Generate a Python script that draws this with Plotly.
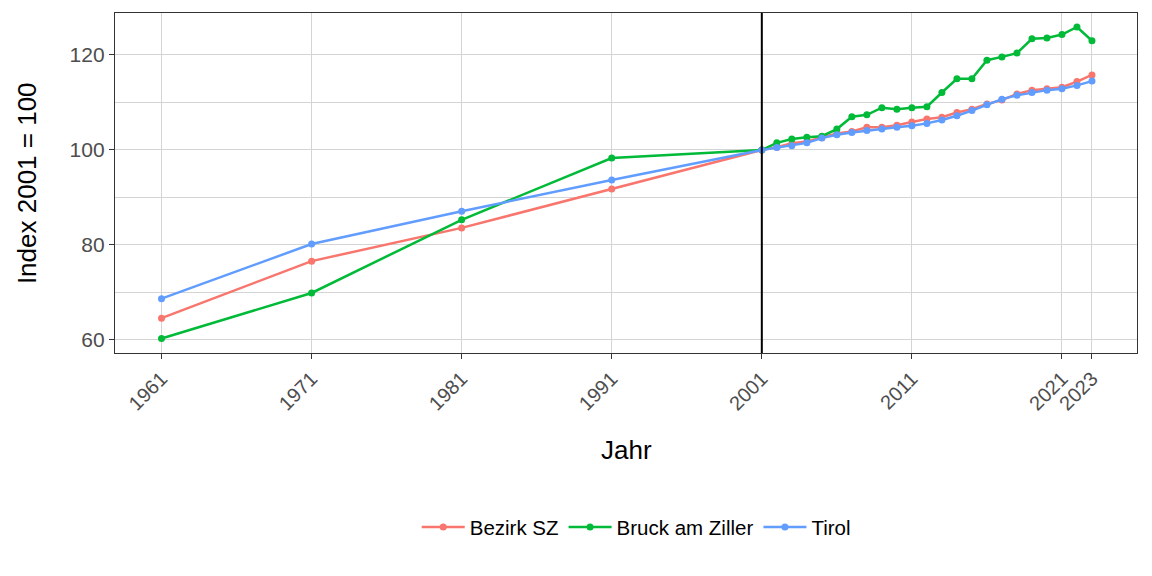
import plotly.graph_objects as go

years = [1961, 1971, 1981, 1991, 2001] + list(range(2002, 2024))

bezirk_sz = [64.6, 76.6, 83.6, 91.8, 100.0,
             100.6, 101.4, 101.8, 102.6, 103.5, 103.9, 104.8, 104.8, 105.2, 105.9,
             106.5, 106.9, 107.9, 108.6, 109.7, 110.5, 111.8, 112.6, 112.9, 113.2,
             114.4, 115.8]
bruck = [60.3, 69.9, 85.3, 98.3, 100.0,
         101.5, 102.3, 102.7, 102.9, 104.4, 107.0, 107.4, 108.9, 108.6, 108.9,
         109.1, 112.1, 115.0, 115.0, 118.9, 119.6, 120.4, 123.4, 123.6, 124.3,
         125.9, 123.0]
tirol = [68.7, 80.2, 87.1, 93.7, 100.0,
         100.5, 100.9, 101.5, 102.5, 103.2, 103.7, 104.1, 104.4, 104.8, 105.1,
         105.6, 106.3, 107.2, 108.3, 109.5, 110.7, 111.5, 112.1, 112.6, 112.9,
         113.6, 114.5]

x_ticks = [1961, 1971, 1981, 1991, 2001, 2011, 2021, 2023]
y_ticks = [60, 80, 100, 120]

series = [("Bezirk SZ", bezirk_sz, "#F8766D"),
          ("Bruck am Ziller", bruck, "#00BA38"),
          ("Tirol", tirol, "#619CFF")]

fig = go.Figure()
for name, vals, col in series:
    fig.add_trace(go.Scatter(x=years, y=vals, name=name, mode="lines+markers",
                             line=dict(color=col, width=2.5),
                             marker=dict(color=col, size=7)))

fig.add_shape(type="line", xref="x", yref="paper", x0=2001, x1=2001, y0=0, y1=1,
              line=dict(color="black", width=2))

grid = "#d4d4d4"
fig.update_layout(
    width=1152, height=576,
    margin=dict(l=107, r=23, t=5, b=231),
    paper_bgcolor="white", plot_bgcolor="white",
    font=dict(family="Liberation Sans, Arial, sans-serif", size=20, color="#4d4d4d"),
    showlegend=True,
    legend=dict(orientation="h", x=0.51, xanchor="center", y=-0.512, yanchor="middle",
                font=dict(size=20.5, color="black"), itemwidth=43,
                traceorder="normal"),
    xaxis=dict(range=[1957.9, 2026.0], tickvals=x_ticks, ticktext=[str(t) for t in x_ticks],
               tickangle=-45, showgrid=True, gridcolor=grid, gridwidth=1,
               ticks="outside", ticklen=5, tickcolor="#333333", tickwidth=1,
               showline=True, linecolor="#333333", linewidth=1.3, mirror=True,
               zeroline=False, tickfont=dict(size=20, color="#4d4d4d")),
    yaxis=dict(range=[57.26, 128.84], tickvals=y_ticks, showgrid=True, gridcolor=grid,
               gridwidth=1, minor=dict(tickvals=[70, 90, 110], showgrid=True,
                                       gridcolor=grid, gridwidth=1),
               ticks="outside", ticklen=5, tickcolor="#333333", tickwidth=1,
               showline=True, linecolor="#333333", linewidth=1.3, mirror=True,
               zeroline=False, tickfont=dict(size=21, color="#4d4d4d")),
    annotations=[
        dict(text="Jahr", xref="paper", yref="paper", x=0.5, y=-0.285, yanchor="middle",
             showarrow=False, font=dict(size=26, color="black")),
        dict(text="Index 2001 = 100", xref="paper", yref="paper", x=-0.086, y=0.5,
             textangle=-90, xanchor="center", yanchor="middle",
             showarrow=False, font=dict(size=26, color="black")),
    ],
)

fig.write_html("out.html")
